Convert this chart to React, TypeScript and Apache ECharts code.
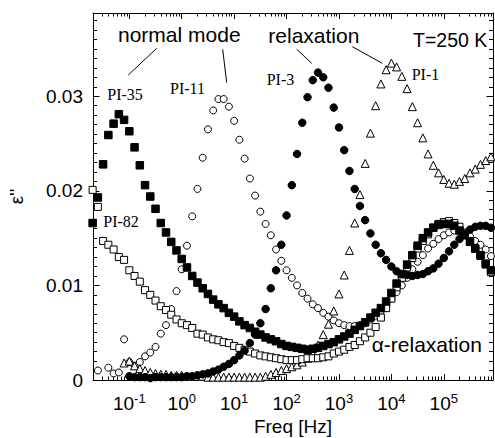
import { useEffect, useRef } from 'react';
import * as echarts from 'echarts';

// log10 of frequency [Hz] of the measurement points
const logFreq = [
  -1.7, -1.6, -1.5, -1.4, -1.3, -1.2, -1.1, -1.0, -0.9, -0.8,
  -0.7, -0.6, -0.5, -0.4, -0.3, -0.2, -0.1, 0.0, 0.1, 0.2,
  0.3, 0.4, 0.5, 0.6, 0.7, 0.8, 0.9, 1.0, 1.1, 1.2,
  1.3, 1.4, 1.5, 1.6, 1.7, 1.8, 1.9, 2.0, 2.1, 2.2,
  2.3, 2.4, 2.5, 2.6, 2.7, 2.8, 2.9, 3.0, 3.1, 3.2,
  3.3, 3.4, 3.5, 3.6, 3.7, 3.8, 3.9, 4.0, 4.1, 4.2,
  4.3, 4.4, 4.5, 4.6, 4.7, 4.8, 4.9, 5.0, 5.1, 5.2,
  5.3, 5.4, 5.5, 5.6, 5.7, 5.8, 5.9,
];

const pi35 = [
  0.0166, 0.0193, 0.0228, 0.0259, 0.0271, 0.0281, 0.0275, 0.0263, 0.0246, 0.0227,
  0.0206, 0.0194, 0.0181, 0.0166, 0.0156, 0.0146, 0.0137, 0.0128, 0.0119, 0.0110,
  0.0103, 0.0097, 0.0091, 0.0085, 0.0080, 0.0076, 0.0071, 0.0067, 0.0062, 0.0058,
  0.0055, 0.0051, 0.0048, 0.0045, 0.0043, 0.0041, 0.0038, 0.0036, 0.0035, 0.0034,
  0.0033, 0.0032, 0.0033, 0.0034, 0.0036, 0.0038, 0.0040, 0.0043, 0.0046, 0.0049,
  0.0053, 0.0057, 0.0061, 0.0066, 0.0071, 0.0076, 0.0083, 0.0092, 0.0102, 0.0112,
  0.0122, 0.0132, 0.0142, 0.0150, 0.0156, 0.0161, 0.0164, 0.0165, 0.0165, 0.0163,
  0.0158, 0.0153, 0.0146, 0.0139, 0.0132, 0.0123, 0.0116,
];

const pi82 = [
  0.0201, 0.0183, 0.0147, 0.0143, 0.0138, 0.0130, 0.0127, 0.0116, 0.0110, 0.0104,
  0.0095, 0.0090, 0.0084, 0.0078, 0.0074, 0.0069, 0.0064, 0.0060, 0.0058, 0.0055,
  0.0049, 0.0048, 0.0045, 0.0043, 0.0042, 0.0040, 0.0039, 0.0036, 0.0034, 0.0032,
  0.0030, 0.0028, 0.0026, 0.0025, 0.0024, 0.0023, 0.0022, 0.0021, 0.0021, 0.0021,
  0.0022, 0.0023, 0.0023, 0.0023, 0.0024, 0.0025, 0.0028, 0.0030, 0.0032, 0.0035,
  0.0037, 0.0041, 0.0045, 0.0050, 0.0056, 0.0066, 0.0076, 0.0086, 0.0098, 0.0108,
  0.0119, 0.0129, 0.0139, 0.0147, 0.0154, 0.0161, 0.0165, 0.0167, 0.0168, 0.0166,
  0.0162, 0.0155, 0.0147, 0.0139, 0.0131, 0.0122, 0.0114,
];

const pi11 = [
  null, 0.0010, null, 0.0013, 0.0007, 0.0008, 0.0043, 0.0019, 0.0015, 0.0019,
  0.0025, 0.0029, 0.0035, 0.0049, 0.0058, 0.0075, 0.0094, 0.0117, 0.0142, 0.0173,
  0.0202, 0.0235, 0.0265, 0.0285, 0.0297, 0.0297, 0.0289, 0.0274, 0.0254, 0.0234,
  0.0213, 0.0195, 0.0178, 0.0165, 0.0153, 0.0138, 0.0126, 0.0116, 0.0108, 0.0100,
  0.0092, 0.0086, 0.0080, 0.0076, 0.0071, 0.0067, 0.0063, 0.0060, 0.0058, 0.0057,
  0.0057, 0.0058, 0.0060, 0.0064, 0.0068, 0.0073, 0.0079, 0.0086, 0.0093, 0.0100,
  0.0108, 0.0117, 0.0125, 0.0132, 0.0139, 0.0144, 0.0149, 0.0153, 0.0156, 0.0158,
  0.0158, 0.0156, 0.0152, 0.0147, 0.0143, 0.0138, 0.0131,
];

const pi3 = [
  null, null, null, null, null, null, null, 0.0004, 0.0003, 0.0003,
  0.0003, 0.0002, 0.0003, 0.0003, 0.0003, 0.0003, 0.0003, 0.0003, 0.0004, 0.0004,
  0.0005, 0.0006, 0.0007, 0.0009, 0.0011, 0.0014, 0.0017, 0.0021, 0.0026, 0.0031,
  0.0039, 0.0048, 0.0060, 0.0075, 0.0097, 0.0116, 0.0143, 0.0174, 0.0206, 0.0239,
  0.0272, 0.0299, 0.0317, 0.0325, 0.0320, 0.0309, 0.0288, 0.0267, 0.0243, 0.0221,
  0.0202, 0.0184, 0.0169, 0.0155, 0.0143, 0.0134, 0.0127, 0.0120, 0.0115, 0.0112,
  0.0111, 0.0110, 0.0111, 0.0112, 0.0115, 0.0118, 0.0123, 0.0129, 0.0136, 0.0143,
  0.0149, 0.0154, 0.0159, 0.0162, 0.0163, 0.0163, 0.0161,
];

const pi1 = [
  null, null, null, null, null, null, 0.0018, 0.0020, 0.0015, 0.0012,
  0.0010, 0.0008, 0.0007, 0.0006, 0.0006, 0.0005, 0.0005, 0.0005, 0.0004, 0.0004,
  0.0004, 0.0004, 0.0003, 0.0003, 0.0003, 0.0003, 0.0003, 0.0003, 0.0003, 0.0003,
  0.0003, 0.0003, 0.0003, 0.0004, 0.0006, 0.0008, 0.0010, 0.0012, 0.0014, 0.0016,
  0.0019, 0.0023, 0.0028, 0.0037, 0.0048, 0.0059, 0.0073, 0.0091, 0.0111, 0.0137,
  0.0166, 0.0196, 0.0229, 0.0261, 0.0290, 0.0313, 0.0328, 0.0335, 0.0331, 0.0321,
  0.0308, 0.0289, 0.0272, 0.0256, 0.0239, 0.0227, 0.0219, 0.0212, 0.0208, 0.0207,
  0.0210, 0.0213, 0.0219, 0.0223, 0.0228, 0.0232, 0.0236,
];

// axis ranges and tick labels
const X_MIN = -1.693;
const X_MAX = 5.939;
const Y_MAX = 0.0388;
const xDecades = [-1, 0, 1, 2, 3, 4, 5];
const yMajor = [0, 0.01, 0.02, 0.03];

const SANS = '"Liberation Sans", Arial, Helvetica, sans-serif';
const SERIF = '"Liberation Serif", "Times New Roman", serif';

function buildOption() {
  const xMinor: number[] = [];
  for (let k = -2; k <= 5; k++) {
    for (let m = 2; m <= 9; m++) {
      const v = k + Math.log10(m);
      if (v > X_MIN && v < X_MAX) xMinor.push(v);
    }
  }
  const yMinor: number[] = [];
  for (let i = 1; i <= 38; i++) {
    if (i % 10 !== 0) yMinor.push(i / 1000);
  }

  const lineStyle = { color: '#000', width: 1 };
  const baseX = {
    type: 'value',
    min: X_MIN,
    max: X_MAX,
    splitLine: { show: false },
    axisLabel: { show: false },
    axisLine: { show: false, onZero: false },
    axisTick: { show: false },
  };
  const baseY = {
    type: 'value',
    min: 0,
    max: Y_MAX,
    splitLine: { show: false },
    axisLabel: { show: false },
    axisLine: { show: false, onZero: false },
    axisTick: { show: false },
  };

  const xAxis = [
    {
      ...baseX,
      position: 'bottom',
      axisLine: { show: true, onZero: false, lineStyle },
      axisTick: { show: true, inside: true, length: 6, customValues: xDecades, lineStyle },
      axisLabel: {
        show: true,
        customValues: xDecades,
        margin: 12,
        formatter: (v: number) => `{b|10}{s|${Math.round(v)}}`,
        rich: {
          b: { fontSize: 19, fontFamily: SANS, color: '#000', lineHeight: 22 },
          s: { fontSize: 13, fontFamily: SANS, color: '#000', verticalAlign: 'top', lineHeight: 13 },
        },
      },
      name: 'Freq [Hz]',
      nameLocation: 'middle',
      nameGap: 37,
      nameTextStyle: { fontSize: 19, fontFamily: SANS, color: '#000' },
    },
    {
      ...baseX,
      position: 'bottom',
      axisTick: { show: true, inside: true, length: 3.5, customValues: xMinor, lineStyle },
    },
    {
      ...baseX,
      position: 'top',
      axisLine: { show: true, onZero: false, lineStyle },
      axisTick: { show: true, inside: true, length: 6, customValues: xDecades, lineStyle },
    },
    {
      ...baseX,
      position: 'top',
      axisTick: { show: true, inside: true, length: 3.5, customValues: xMinor, lineStyle },
    },
  ];

  const yAxis = [
    {
      ...baseY,
      position: 'left',
      axisLine: { show: true, onZero: false, lineStyle },
      axisTick: { show: true, inside: true, length: 6.5, customValues: yMajor, lineStyle },
      axisLabel: {
        show: true,
        customValues: yMajor,
        margin: 10,
        fontSize: 19,
        fontFamily: SANS,
        color: '#000',
        formatter: (v: number) => (v === 0 ? '0' : v.toFixed(2)),
      },
      name: "ε''",
      nameLocation: 'middle',
      nameRotate: 90,
      nameGap: 67,
      nameTextStyle: { fontSize: 19, fontFamily: SANS, color: '#000' },
    },
    {
      ...baseY,
      position: 'left',
      axisTick: { show: true, inside: true, length: 4, customValues: yMinor, lineStyle },
    },
    {
      ...baseY,
      position: 'right',
      axisLine: { show: true, onZero: false, lineStyle },
      axisTick: { show: true, inside: true, length: 6.5, customValues: yMajor, lineStyle },
    },
    {
      ...baseY,
      position: 'right',
      axisTick: { show: true, inside: true, length: 4, customValues: yMinor, lineStyle },
    },
  ];

  const toData = (vals: (number | null)[]) =>
    logFreq
      .map((x, i) => (vals[i] == null ? null : [x, vals[i]]))
      .filter((d) => d !== null);

  const defs = [
    { name: 'PI-11', vals: pi11, symbol: 'circle', size: 7, filled: false },
    { name: 'PI-1', vals: pi1, symbol: 'triangle', size: 8, filled: false },
    { name: 'PI-82', vals: pi82, symbol: 'rect', size: 7, filled: false },
    { name: 'PI-35', vals: pi35, symbol: 'rect', size: 7.5, filled: true },
    { name: 'PI-3', vals: pi3, symbol: 'circle', size: 7.5, filled: true },
  ];

  const series = defs.map((d) => ({
    type: 'scatter',
    name: d.name,
    xAxisIndex: 0,
    yAxisIndex: 0,
    data: toData(d.vals),
    symbol: d.symbol,
    symbolSize: d.size,
    clip: false,
    silent: true,
    itemStyle: {
      color: d.filled ? '#000' : '#fff',
      borderColor: '#000',
      borderWidth: 1,
      opacity: 1,
    },
    emphasis: { disabled: true },
  }));

  const txt = (text: string, x: number, y: number, size: number, family: string) => ({
    type: 'text',
    x,
    y,
    silent: true,
    z: 10,
    style: { text, fontSize: size, fontFamily: family, fill: '#000', align: 'left', verticalAlign: 'middle' },
  });
  const ln = (x1: number, y1: number, x2: number, y2: number) => ({
    type: 'line',
    silent: true,
    z: 10,
    shape: { x1, y1, x2, y2 },
    style: { stroke: '#000', lineWidth: 1 },
  });

  const graphic = [
    txt('normal mode', 118, 34.7, 21, SANS),
    txt('relaxation', 268.3, 35.3, 21, SANS),
    txt('T=250 K', 413, 39.7, 19.5, SANS),
    txt('α-relaxation', 371.7, 344.3, 21, SANS),
    txt('PI-35', 107.3, 94.6, 16, SERIF),
    txt('PI-11', 170, 88.6, 16, SERIF),
    txt('PI-3', 266.7, 79.6, 16, SERIF),
    txt('PI-1', 411.7, 74.6, 16, SERIF),
    txt('PI-82', 103.3, 221.3, 16, SERIF),
    ln(156.7, 48.3, 128.3, 75),
    ln(222.7, 49.3, 226.7, 82.7),
    ln(296.7, 49.3, 311.7, 63.3),
    ln(352.3, 46.7, 382.3, 63.3),
  ];

  return {
    animation: false,
    backgroundColor: '#fff',
    grid: {
      left: 93,
      right: 2,
      top: 13,
      bottom: 58,
      containLabel: false,
      outerBoundsMode: 'none',
    },
    xAxis,
    yAxis,
    series,
    graphic,
  };
}

export default function App() {
  const ref = useRef<HTMLDivElement>(null);
  useEffect(() => {
    if (!ref.current) return;
    const chart = echarts.init(ref.current, null, { renderer: 'svg' });
    chart.setOption(buildOption() as any);
    return () => chart.dispose();
  }, []);
  return (
    <div
      ref={ref}
      style={{ position: 'absolute', left: 0, top: 0, width: 495, height: 438, background: '#fff' }}
    />
  );
}
